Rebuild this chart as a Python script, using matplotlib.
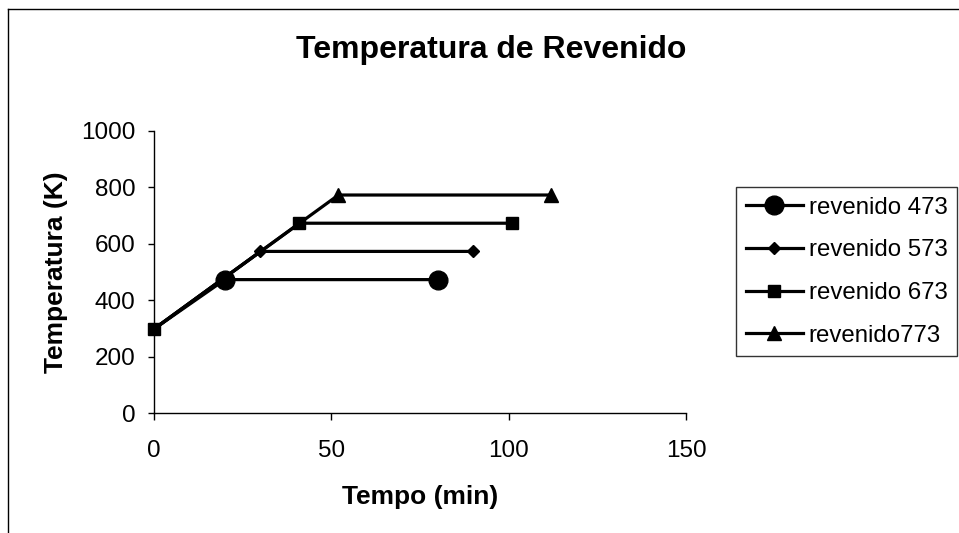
import matplotlib
matplotlib.use('Agg')
import matplotlib.pyplot as plt
from matplotlib.lines import Line2D

plt.rcParams['font.family'] = ['Liberation Sans', 'DejaVu Sans']

# Datos: tiempo (min) y temperatura (K) de cada revenido
t_473 = [0, 20, 80]
T_473 = [298, 473, 473]
t_573 = [0, 30, 90]
T_573 = [298, 573, 573]
t_673 = [0, 41, 101]
T_673 = [298, 673, 673]
t_773 = [0, 52, 112]
T_773 = [298, 773, 773]

etiquetas = ['revenido 473', 'revenido 573', 'revenido 673', 'revenido773']
marcadores = ['o', 'D', 's', '^']
tamanos = [13.5, 6, 8.5, 9.5]
x_ticks = [0, 50, 100, 150]
y_ticks = [0, 200, 400, 600, 800, 1000]

fig = plt.figure(figsize=(9.59, 5.33), dpi=100)
ax = fig.add_axes([154 / 959, 1 - 413 / 533, 532 / 959, 282 / 533])

# Series (el punto inicial comun solo lleva el marcador cuadrado)
estilo = dict(color='black', linewidth=2.3, clip_on=False)
ax.plot(t_473, T_473, marker=marcadores[0], markersize=tamanos[0], markevery=[1, 2], **estilo)
ax.plot(t_573, T_573, marker=marcadores[1], markersize=tamanos[1], markevery=[1, 2], **estilo)
ax.plot(t_773, T_773, marker=marcadores[3], markersize=tamanos[3], markevery=[1, 2], **estilo)
ax.plot(t_673, T_673, marker=marcadores[2], markersize=tamanos[2], **estilo)

ax.set_xlim(0, 150)
ax.set_ylim(0, 1000)
ax.set_xticks(x_ticks)
ax.set_yticks(y_ticks)
ax.spines['top'].set_visible(False)
ax.spines['right'].set_visible(False)
ax.spines['left'].set_linewidth(1)
ax.spines['bottom'].set_linewidth(1)

ax.tick_params(axis='y', direction='out', length=4.5, width=1, pad=9, labelsize=17.5)
ax.tick_params(axis='x', direction='out', length=5, width=1, pad=14.5, labelsize=17.5)

ax.set_xlabel('Tempo (min)', fontsize=19, fontweight='bold', va='center')
ax.xaxis.set_label_coords(0.5, -0.298)
ax.set_ylabel('Temperatura (K)', fontsize=19, fontweight='bold', va='center')
ax.yaxis.set_label_coords(-0.185, 0.5)

fig.text(491 / 959, 1 - 50 / 533, 'Temperatura de Revenido', fontsize=23,
         fontweight='bold', ha='center', va='center')

# Leyenda
handles = [Line2D([], [], color='black', linewidth=2.3, marker=m, markersize=s)
           for m, s in zip(marcadores, tamanos)]
leg = fig.legend(handles, etiquetas,
                 loc='upper left', bbox_to_anchor=(736 / 959, 1 - 187 / 533),
                 fontsize=17.3, frameon=True, fancybox=False, handlelength=2.4,
                 handletextpad=0.22, borderpad=0.4, labelspacing=0.86,
                 borderaxespad=0)
leg.get_frame().set_edgecolor('black')
leg.get_frame().set_linewidth(1)

# Marco exterior del grafico
fig.add_artist(Line2D([8 / 959, 1], [1 - 9 / 533, 1 - 9 / 533], color='black', linewidth=1))
fig.add_artist(Line2D([8 / 959, 8 / 959], [0, 1 - 9 / 533], color='black', linewidth=1))

fig.savefig('out.png', dpi=100)
